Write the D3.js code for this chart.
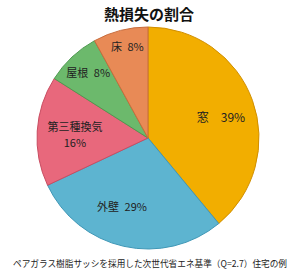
<!DOCTYPE html>
<html>
<head>
<meta charset="utf-8">
<script src="https://cdn.jsdelivr.net/npm/d3@7"></script>
<style>
  body { margin: 0; background: #fff; }
  text { font-family: "Noto Sans CJK JP", "Noto Sans", sans-serif; }
</style>
</head>
<body>
<div id="chart"></div>
<script>
var categories = ["窓", "外壁", "第三種換気", "屋根", "床"];
var shares = [39, 29, 16, 8, 8];
var colors = ["#f2ae00", "#5db4d0", "#e8687c", "#6cb96c", "#e88a56"];
var strokes = ["#d18f00", "#3f97b6", "#c94c61", "#4f9a50", "#c86c3c"];

var width = 300, height = 274,
    cx = 148, cy = 138, radius = 111;

var svg = d3.select("#chart").append("svg")
    .attr("width", width)
    .attr("height", height)

svg.append("text")
    .attr("x", 149)
    .attr("y", 20)
    .attr("text-anchor", "middle")
    .attr("font-size", 15)
    .attr("font-weight", "bold")
    .attr("fill", "#111")
    .text("熱損失の割合")

var pie = d3.pie().sort(null).value(function (d) { return d; })
var arcs = pie(shares)

var arc = d3.arc().innerRadius(0).outerRadius(radius)

var g = svg.append("g")
    .attr("transform", "translate(" + cx + "," + cy + ")")

g.selectAll("path.slice")
    .data(arcs)
    .enter().append("path")
    .attr("class", "slice")
    .attr("d", arc)
    .attr("fill", function (d, i) { return colors[i]; })
    .attr("stroke", function (d, i) { return strokes[i]; })
    .attr("stroke-width", 1)

// label placement: radius factor + small nudges per slice
var labelLayout = [
    { k: 0.66, dx: 4, dy: 5, size: 12, gap: "\u2003" },
    { k: 0.66, dx: -10, dy: -2, size: 11, gap: "\u2002" },
    { k: 0.66, dx: 0, dy: -2, size: 11 },
    { k: 0.8, dx: 1, dy: 0, size: 11, gap: "\u2002" },
    { k: 0.86, dx: 3, dy: 1, size: 11, gap: "\u2002" }
];

arcs.forEach(function (d, i) {
    var lay = labelLayout[i];
    var la = d3.arc().innerRadius(radius * lay.k).outerRadius(radius * lay.k);
    var c = la.centroid(d);
    var x = c[0] + lay.dx, y = c[1] + lay.dy;
    var t = g.append("text")
        .attr("text-anchor", "middle")
        .attr("font-size", lay.size)
        .attr("fill", "#222")
    if (categories[i].length > 3) {
        t.append("tspan").attr("x", x).attr("y", y).text(categories[i]);
        t.append("tspan").attr("x", x).attr("y", y + 16).text(shares[i] + "%");
    } else {
        t.attr("x", x).attr("y", y + 4)
            .text(categories[i] + lay.gap + shares[i] + "%");
    }
})

svg.append("text")
    .attr("x", 13)
    .attr("y", 267)
    .attr("font-size", 9)
    .attr("fill", "#222")
    .attr("textLength", 274)
    .attr("lengthAdjust", "spacingAndGlyphs")
    .text("ペアガラス樹脂サッシを採用した次世代省エネ基準（Q=2.7）住宅の例")
</script>
</body>
</html>
